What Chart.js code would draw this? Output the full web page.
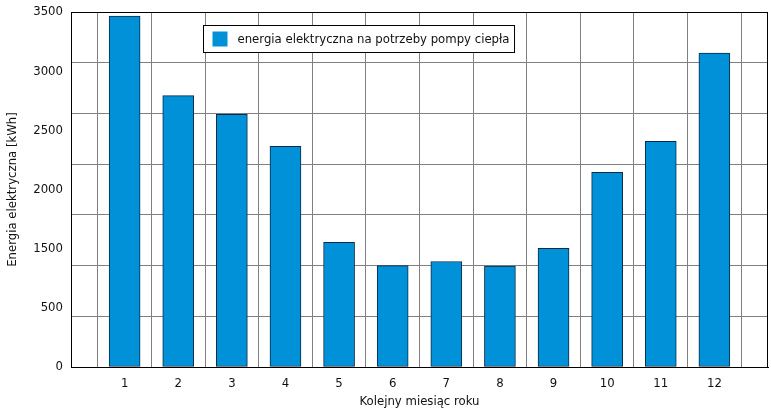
<!DOCTYPE html>
<html>
<head>
<meta charset="utf-8">
<script src="https://cdn.jsdelivr.net/npm/chart.js@4"></script>
<style>
  html, body { margin: 0; padding: 0; background: #ffffff; }
  #wrap { width: 771px; height: 412px; }
</style>
</head>
<body>
<div id="wrap"><canvas id="c" width="771" height="412"></canvas></div>
<script>
// ---- data ----
const months = [1, 2, 3, 4, 5, 6, 7, 8, 9, 10, 11, 12];
const energy = [3460, 2675, 2490, 2175, 1230, 1000, 1040, 995, 1170, 1920, 2225, 3095];
const seriesLabel = 'energia elektryczna na potrzeby pompy ciepła';
const yTickLabels = ['0', '500', '1500', '2000', '2500', '3000', '3500'];
const xTitle = 'Kolejny miesiąc roku';
const yTitle = 'Energia elektryczna [kWh]';

const FONT = "'DejaVu Sans Condensed', 'Liberation Sans Narrow', sans-serif";
const FS = 13;

const framePlugin = {
  id: 'frame',
  afterDatasetsDraw(chart) {
    const a = chart.chartArea, ctx = chart.ctx;
    ctx.save();
    ctx.strokeStyle = '#000000';
    ctx.lineWidth = 1;
    ctx.strokeRect(Math.round(a.left) + 0.5, Math.round(a.top) + 0.5,
                   Math.round(a.right - a.left) - 1, Math.round(a.bottom - a.top));
    ctx.restore();
  }
};

const boxLegendPlugin = {
  id: 'boxLegend',
  afterDraw(chart) {
    const a = chart.chartArea, ctx = chart.ctx;
    const ds = chart.data.datasets[0];
    ctx.save();
    ctx.font = FS + 'px ' + FONT;
    const tw = ctx.measureText(ds.label).width;
    const x0 = Math.round(a.left + 132) + 0.5;
    const y0 = Math.round(a.top + 13) + 0.5;
    const w = 34 + tw + 5;
    const h = 27;
    ctx.fillStyle = '#ffffff';
    ctx.fillRect(x0, y0, w, h);
    ctx.strokeStyle = '#000000';
    ctx.lineWidth = 1;
    ctx.strokeRect(x0, y0, w, h);
    ctx.fillStyle = ds.backgroundColor;
    ctx.fillRect(x0 + 9, y0 + 6, 15, 15);
    ctx.fillStyle = '#111111';
    ctx.textBaseline = 'middle';
    ctx.textAlign = 'left';
    ctx.fillText(ds.label, x0 + 34, y0 + h / 2 + 1);
    ctx.restore();
  }
};

new Chart(document.getElementById('c'), {
  type: 'bar',
  data: {
    datasets: [{
      label: seriesLabel,
      data: months.map((m, i) => ({ x: m, y: energy[i] })),
      backgroundColor: '#0091d9',
      borderColor: '#0b2a45',
      borderWidth: 1,
      borderSkipped: false,
      barThickness: 31
    }]
  },
  options: {
    responsive: false,
    animation: false,
    layout: { padding: { top: 12, right: 3, left: 0, bottom: 0 } },
    plugins: {
      legend: { display: false },
      tooltip: { enabled: false }
    },
    scales: {
      x: {
        type: 'linear',
        min: 0,
        max: 13,
        offset: false,
        afterFit(s) { s.height = 45; s.paddingLeft = 0; s.paddingRight = 0; },
        ticks: {
          stepSize: 1,
          autoSkip: false,
          maxRotation: 0,
          padding: 9,
          color: '#111111',
          font: { family: FONT, size: FS },
          callback: (v) => (v >= 1 && v <= months.length) ? String(months[v - 1]) : ''
        },
        grid: { color: '#808080', lineWidth: 1, drawTicks: false },
        border: { color: '#000000', width: 1 },
        title: {
          display: true,
          text: xTitle,
          color: '#111111',
          font: { family: FONT, size: FS },
          padding: { top: 0, bottom: 3 }
        }
      },
      y: {
        type: 'linear',
        position: 'left',
        min: 0,
        max: 3500,
        weight: 1,
        afterFit(s) { s.paddingTop = 0; s.paddingBottom = 0; },
        ticks: { stepSize: 500, display: false },
        grid: { color: '#808080', lineWidth: 1, drawTicks: false },
        border: { color: '#000000', width: 1 }
      },
      yLab: {
        type: 'linear',
        position: 'left',
        min: 0,
        max: yTickLabels.length - 1,
        weight: 2,
        afterFit(s) { s.width = 71; s.paddingTop = 0; s.paddingBottom = 0; },
        ticks: {
          stepSize: 1,
          autoSkip: false,
          padding: 8,
          color: '#111111',
          font: { family: FONT, size: FS },
          callback: (v) => yTickLabels[v] !== undefined ? yTickLabels[v] : ''
        },
        grid: { display: false, drawTicks: false },
        border: { display: false },
        title: {
          display: true,
          text: yTitle,
          color: '#111111',
          font: { family: FONT, size: FS },
          padding: { top: 5, bottom: 0 }
        }
      }
    }
  },
  plugins: [framePlugin, boxLegendPlugin]
});
</script>
</body>
</html>
